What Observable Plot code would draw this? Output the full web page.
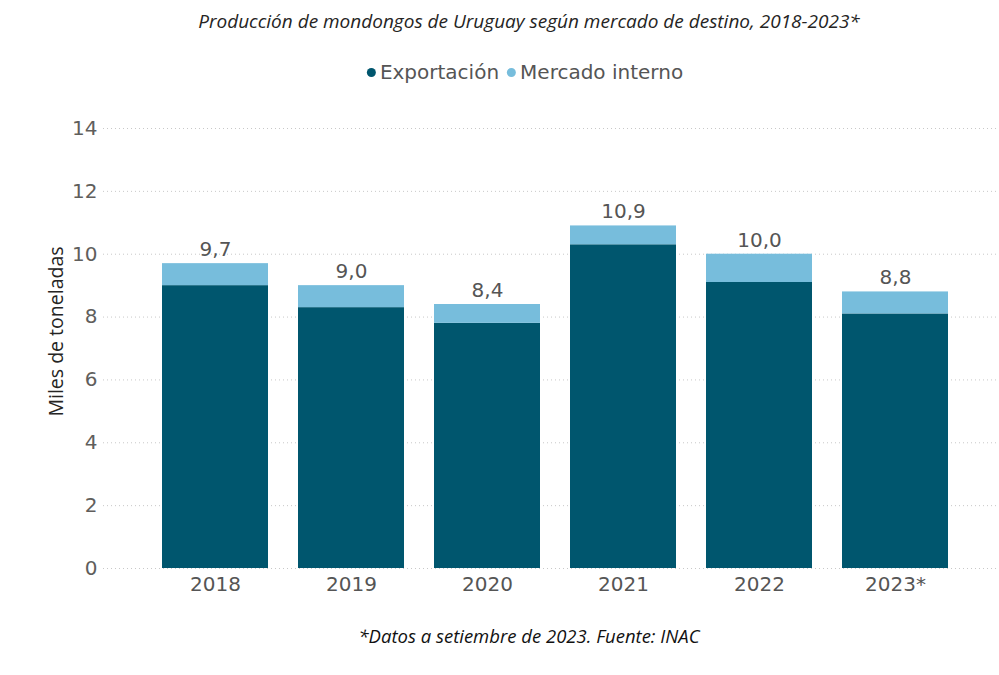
<!DOCTYPE html>
<html>
<head>
<meta charset="utf-8">
<script src="https://cdn.jsdelivr.net/npm/d3@7"></script>
<script src="https://cdn.jsdelivr.net/npm/@observablehq/plot@0.6"></script>
<style>
  html, body { margin: 0; padding: 0; background: #fff; }
  #wrap { position: relative; width: 999px; height: 675px; overflow: hidden; }
  .abs { position: absolute; white-space: nowrap; }
  #title { top: 8px; left: 529px; transform: translateX(-50%); font-family: "Open Sans", sans-serif; font-style: italic; font-size: 19px; color: #252423; }
  #legend { top: 60px; left: 529px; transform: translateX(-50%); font-family: "DejaVu Sans", Verdana, sans-serif; font-size: 20px; color: #555; display: flex; align-items: center; }
  #legend .sw { display: inline-block; width: 9px; height: 9px; border-radius: 50%; margin-right: 4px; }
  #legend .item { display: flex; align-items: center; margin-right: 8px; }
  #chart { position: absolute; top: 100px; left: 0; }
  #caption { top: 623px; left: 529px; transform: translateX(-50%); font-family: "Open Sans", sans-serif; font-style: italic; font-size: 18.5px; color: #111; }
</style>
</head>
<body>
<div id="wrap">
  <div id="title" class="abs"></div>
  <div id="legend" class="abs"></div>
  <div id="chart"></div>
  <div id="caption" class="abs"></div>
</div>
<script>
const titleText = "Producción de mondongos de Uruguay según mercado de destino, 2018-2023*";
const captionText = "*Datos a setiembre de 2023. Fuente: INAC";
const yLabel = "Miles de toneladas";
const years = ["2018", "2019", "2020", "2021", "2022", "2023*"];
const exportacion = [9.0, 8.3, 7.8, 10.3, 9.1, 8.1];
const mercadoInterno = [0.7, 0.7, 0.6, 0.6, 0.9, 0.7];
const totals = [9.7, 9.0, 8.4, 10.9, 10.0, 8.8];
const seriesNames = ["Exportación", "Mercado interno"];
const seriesColors = ["#00566e", "#77bddc"];
const yTicks = [0, 2, 4, 6, 8, 10, 12, 14];

document.getElementById("title").textContent = titleText;
document.getElementById("caption").textContent = captionText;
const legend = document.getElementById("legend");
seriesNames.forEach((n, i) => {
  const it = document.createElement("span");
  it.className = "item";
  const sw = document.createElement("span");
  sw.className = "sw";
  sw.style.background = seriesColors[i];
  it.appendChild(sw);
  it.appendChild(document.createTextNode(n));
  legend.appendChild(it);
});

const rows = [];
years.forEach((y, i) => {
  rows.push({year: y, serie: seriesNames[0], value: exportacion[i]});
  rows.push({year: y, serie: seriesNames[1], value: mercadoInterno[i]});
});
const totalRows = years.map((y, i) => ({year: y, total: totals[i]}));
const fmt = v => v.toFixed(1).replace(".", ",");

const chart = Plot.plot({
  width: 999,
  height: 508,
  marginTop: 28,
  marginBottom: 40,
  marginLeft: 103,
  marginRight: 2,
  style: {fontFamily: "DejaVu Sans, Verdana, sans-serif", background: "transparent"},
  x: {domain: years, range: [160, 950], paddingInner: 0.22, paddingOuter: 0, label: null},
  y: {domain: [0, 14], label: null},
  color: {domain: seriesNames, range: seriesColors},
  marks: [
    Plot.gridY(yTicks, {stroke: "#c8c8c8", strokeOpacity: 1, strokeDasharray: "1,3"}),
    Plot.barY(rows, {x: "year", y: "value", fill: "serie", order: seriesNames}),
    Plot.text(totalRows, {x: "year", y: "total", text: d => fmt(d.total), dy: -14, fontSize: 20, fill: "#555"}),
    Plot.axisY(yTicks, {tickSize: 0, tickPadding: 6, fontSize: 20, color: "#605e5c", tickFormat: d => d}),
    Plot.axisX({tickSize: 0, tickPadding: 8, fontSize: 20, color: "#555"}),
    Plot.text([yLabel], {frameAnchor: "left", dx: -47, dy: -17, rotate: -90, textAnchor: "middle", fontFamily: "Open Sans, sans-serif", fontSize: 19.5, fill: "#252423", text: d => d})
  ]
});
document.getElementById("chart").appendChild(chart);
</script>
</body>
</html>
